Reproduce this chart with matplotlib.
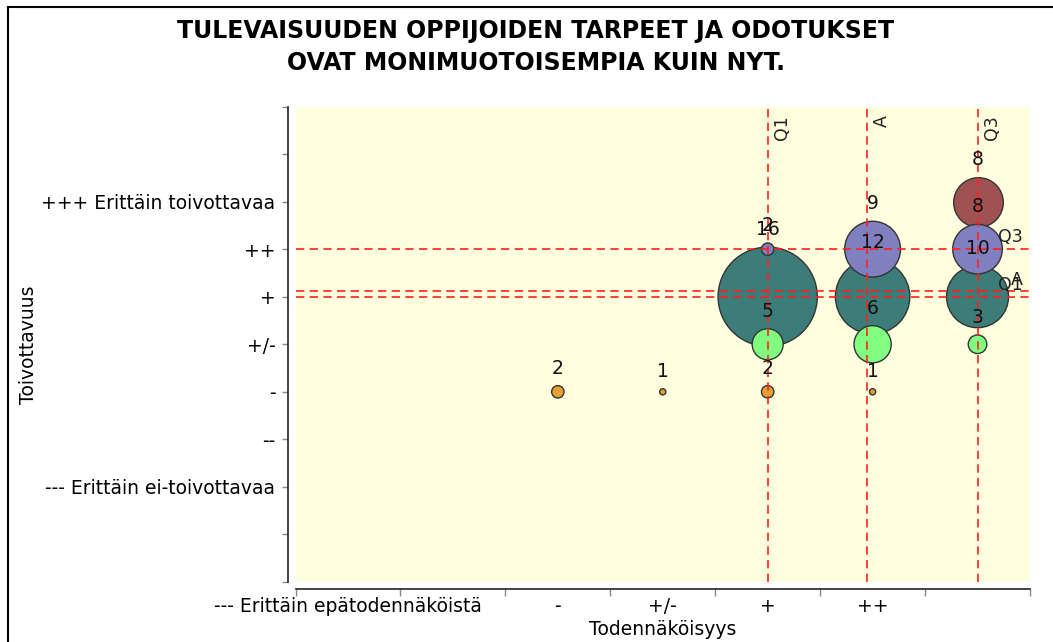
import matplotlib
matplotlib.use("Agg")
import matplotlib.pyplot as plt
from matplotlib.collections import EllipseCollection
from matplotlib.patches import Rectangle
import numpy as np

# ---------------- data ----------------
title = "TULEVAISUUDEN OPPIJOIDEN TARPEET JA ODOTUKSET\nOVAT MONIMUOTOISEMPIA KUIN NYT."
x_label = "Todennäköisyys"
y_label = "Toivottavuus"

x_tick_values = [1, 2, 3, 4, 5, 6, 7]
x_tick_labels = ["--- Erittäin epätodennäköistä", "", "-", "+/-", "+", "++", ""]

y_tick_values = [-1, 0, 1, 2, 3, 4, 5, 6, 7, 8, 9]
y_tick_labels = ["", "", "--- Erittäin ei-toivottavaa", "--", "-", "+/-", "+", "++",
                 "+++ Erittäin toivottavaa", "", ""]

# bubble series (one per desirability level), in drawing order
teal_x = [5, 6, 7]
teal_y = [5, 5, 5]
teal_n = [16, 12, 10]

red_x = [7]
red_y = [7]
red_n = [8]

purple_x = [5, 6, 7]
purple_y = [6, 6, 6]
purple_n = [2, 9, 8]

green_x = [5, 6, 7]
green_y = [4, 4, 4]
green_n = [5, 6, 3]

orange_x = [3, 4, 5, 6]
orange_y = [3, 3, 3, 3]
orange_n = [2, 1, 2, 1]

# marker lines (quartiles and average)
v_marker_names = ["Q1", "A", "Q3"]
v_marker_values = [5, 5.95, 7]
h_marker_names = ["Q3", "A", "Q1"]
h_marker_values = [6, 5.11, 5]

# ---------------- style ----------------
series = [
    (teal_x, teal_y, teal_n, "#3c7d7a"),
    (red_x, red_y, red_n, "#a05252"),
    (purple_x, purple_y, purple_n, "#8080c0"),
    (green_x, green_y, green_n, "#80ff80"),
    (orange_x, orange_y, orange_n, "#e6a032"),
]
BUBBLE_SCALE = 0.0591  # x-axis units of diameter per answer
FS = 13.5

W, H = 1053, 642
fig = plt.figure(figsize=(W / 100, H / 100), dpi=100)
fig.patch.set_facecolor("white")

# outer frame (only left and top edges visible in the reference)
fig.patches.append(Rectangle((8 / W, -0.1), 1.2, (H - 7) / H + 0.1,
                             transform=fig.transFigure, fill=False,
                             edgecolor="black", linewidth=1.5))

left, right = 295.5 / W, 1030 / W
top, bottom = 1 - 106.5 / H, 1 - 582 / H
ax = fig.add_axes([left, bottom, right - left, top - bottom])
ax.set_facecolor("#ffffe0")
ax.set_xlim(0.5, 7.5)
ax.set_ylim(-1, 9)

for s in ["top", "right"]:
    ax.spines[s].set_visible(False)
ax.spines["left"].set_position(("outward", 5.5))
ax.spines["bottom"].set_position(("outward", 5))
for s in ["left", "bottom"]:
    ax.spines[s].set_color("#222222")
    ax.spines[s].set_linewidth(1.2)

# y ticks
ax.set_yticks(y_tick_values)
ax.set_yticklabels(y_tick_labels, fontsize=FS)
ax.tick_params(axis="y", direction="out", length=4, width=1, color="#888888", pad=5)

# x ticks: marks at category boundaries, labels at category centres
ax.set_xticks(np.arange(0.5, 7.6, 1.0))
ax.tick_params(axis="x", which="major", direction="out", length=5, width=1,
               color="#888888", labelbottom=False)
ax.set_xticks(x_tick_values, minor=True)
ax.set_xticklabels(x_tick_labels, minor=True, fontsize=FS)
ax.tick_params(axis="x", which="minor", length=0, pad=6)

ax.set_xlabel(x_label, fontsize=FS, labelpad=3)
ax.set_ylabel(y_label, fontsize=FS, labelpad=2)

px_per_unit = ax.transData.transform((1, 0))[0] - ax.transData.transform((0, 0))[0]
pt_per_px = 72 / fig.dpi

for z, (xs, ys, ns, col) in enumerate(series):
    d = np.array(ns, dtype=float) * BUBBLE_SCALE
    ec = EllipseCollection(d, d, np.zeros_like(d), units="x",
                           offsets=np.column_stack([xs, ys]),
                           offset_transform=ax.transData,
                           facecolors=col, edgecolors="#333333", linewidths=1.0,
                           zorder=2 + z * 0.1)
    ax.add_collection(ec)
    for x, y, n in zip(xs, ys, ns):
        r_pt = n * BUBBLE_SCALE / 2 * px_per_unit * pt_per_px
        ax.annotate(str(n), (x, y), xytext=(0, r_pt + 12.5), textcoords="offset points",
                    ha="center", va="center", fontsize=FS, color="#111111", zorder=10)

# marker lines
line_kw = dict(color="#ff2020", linewidth=1.2, dashes=(5, 3.2), zorder=5)
for name, v in zip(v_marker_names, v_marker_values):
    ax.axvline(v, **line_kw)
    ax.annotate(name, (v, 9), xytext=(4, -6), textcoords="offset points",
                rotation=90, ha="left", va="top", fontsize=FS - 1, color="#222222", zorder=10)
for name, v in zip(h_marker_names, h_marker_values):
    ax.axhline(v, **line_kw)
    ax.annotate(name, (7.5, v), xytext=(-5, 2), textcoords="offset points",
                ha="right", va="bottom", fontsize=FS - 1, color="#222222", zorder=10)

fig.text(536 / W, 1 - 47 / H, title, ha="center", va="center", fontsize=17,
         fontweight="bold", linespacing=1.4)

fig.savefig("out.png", dpi=100)
